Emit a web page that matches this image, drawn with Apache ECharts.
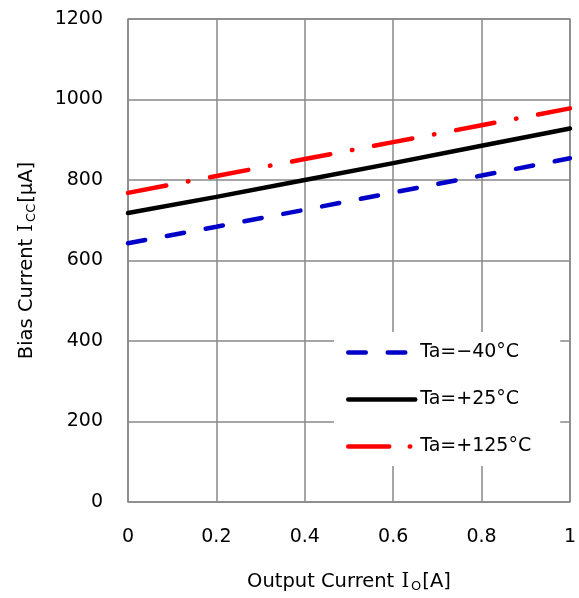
<!DOCTYPE html>
<html>
<head>
<meta charset="utf-8">
<script src="https://cdn.jsdelivr.net/npm/echarts@6/dist/echarts.min.js"></script>
<style>html,body{margin:0;padding:0;background:#fff;}#chart{width:579px;height:598px;}</style>
</head>
<body>
<div id="chart"></div>
<script>
var outputCurrent = [0, 0.2, 0.4, 0.6, 0.8, 1.0];
var biasM40 = [643, 684, 726, 769, 811, 854];
var bias25 = [718, 758, 800, 842, 885, 928];
var bias125 = [768, 810, 852, 894, 936, 978];
var seriesNames = ['Ta=\u221240\u00b0C', 'Ta=+25\u00b0C', 'Ta=+125\u00b0C'];

function pairs(xs, ys) { return xs.map(function (x, i) { return [x, ys[i]]; }); }

var FONT = '"DejaVu Sans", sans-serif';
var rich = {
  a: {fontSize: 19.5, color: '#000', fontFamily: FONT},
  i: {fontSize: 19.5, color: '#000', fontFamily: '"DejaVu Serif", serif', padding: [0, 2, 0, 1]},
  s: {fontSize: 13, color: '#000', fontFamily: FONT, verticalAlign: 'bottom', padding: [10, 1, 0, 0]}
};
var BLUE = '#0000c8', RED = '#ff0000', BLACK = '#000000';
var dashBlue = [17.5, 22], dashRed = [39, 22, 0.5, 22], dashRedLegend = [41, 20.5, 0.5, 22];

var chart = echarts.init(document.getElementById('chart'), null, {renderer: 'canvas'});
chart.setOption({
  animation: false,
  backgroundColor: '#fff',
  grid: {left: 128, right: 8, top: 19, bottom: 96, show: true, borderColor: '#888', borderWidth: 1.5},
  xAxis: {
    type: 'value', min: 0, max: 1, interval: 0.2,
    axisLine: {show: false}, axisTick: {show: false},
    splitLine: {show: true, lineStyle: {color: '#888', width: 1.5}},
    axisLabel: {color: '#000', fontSize: 19, fontFamily: FONT, margin: 26, formatter: function (v) { return String(Math.round(v * 10) / 10); }},
    name: '{a|Output Current }{i|I}{s|O}{a|[A]}',
    nameLocation: 'middle', nameGap: 68,
    nameTextStyle: {rich: rich}
  },
  yAxis: {
    type: 'value', min: 0, max: 1200, interval: 200,
    axisLine: {show: false}, axisTick: {show: false},
    splitLine: {show: true, lineStyle: {color: '#888', width: 1.5}},
    axisLabel: {color: '#000', fontSize: 19, fontFamily: FONT, margin: 25, formatter: function (v) { return String(v); }},
    name: '{a|Bias Current }{i|I}{s|CC}{a|[\u03bcA]}',
    nameLocation: 'middle', nameGap: 90, nameRotate: 90,
    nameTextStyle: {rich: rich}
  },
  legend: {
    orient: 'vertical', left: 334, top: 332,
    backgroundColor: '#fff', padding: [11, 29, 10, 12],
    itemWidth: 67, itemHeight: 14, itemGap: 28,
    itemStyle: {opacity: 0},
    textStyle: {color: '#000', fontSize: 19, fontFamily: FONT, padding: [0, 0, 0, 0]},
    data: [
      {name: seriesNames[0], lineStyle: {color: BLUE, width: 4.5, type: dashBlue, cap: 'round'}, itemStyle: {opacity: 0}},
      {name: seriesNames[1], lineStyle: {color: BLACK, width: 4.5, type: 'solid', cap: 'round'}, itemStyle: {opacity: 0}},
      {name: seriesNames[2], lineStyle: {color: RED, width: 4.5, type: dashRedLegend, cap: 'round'}, itemStyle: {opacity: 0}}
    ]
  },
  series: [
    {name: seriesNames[0], type: 'line', showSymbol: false, symbol: 'none', data: pairs(outputCurrent, biasM40),
     lineStyle: {color: BLUE, width: 4.5, type: dashBlue, cap: 'round'}, itemStyle: {color: BLUE}},
    {name: seriesNames[1], type: 'line', showSymbol: false, symbol: 'none', data: pairs(outputCurrent, bias25),
     lineStyle: {color: BLACK, width: 4.5, type: 'solid', cap: 'round'}, itemStyle: {color: BLACK}},
    {name: seriesNames[2], type: 'line', showSymbol: false, symbol: 'none', data: pairs(outputCurrent, bias125),
     lineStyle: {color: RED, width: 4.5, type: dashRed, cap: 'round'}, itemStyle: {color: RED}}
  ]
});
</script>
</body>
</html>
